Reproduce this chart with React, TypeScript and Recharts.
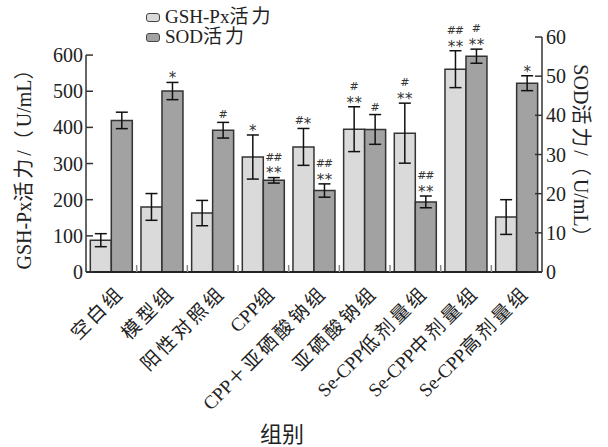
import React from "react";
import {
  BarChart,
  Bar,
  XAxis,
  YAxis,
  ErrorBar,
  LabelList,
  Legend,
  Label,
} from "recharts";

const groups = [
  "空白组",
  "模型组",
  "阳性对照组",
  "CPP组",
  "CPP＋亚硒酸钠组",
  "亚硒酸钠组",
  "Se-CPP低剂量组",
  "Se-CPP中剂量组",
  "Se-CPP高剂量组",
];

const gshValues = [88, 180, 163, 318, 346, 395, 384, 561, 152];
const gshErrors = [18, 37, 35, 61, 51, 62, 83, 51, 48];
const sodValues = [38.7, 46.2, 36.2, 23.4, 20.8, 36.4, 17.9, 55.1, 48.2];
const sodErrors = [2.1, 2.2, 2.0, 0.7, 1.7, 3.8, 1.5, 1.8, 1.9];

// significance marks, top line first
const gshMarks = [[], [], [], ["*"], ["#*"], ["#", "**"], ["#", "**"], ["##", "**"], []];
const sodMarks = [[], ["*"], ["#"], ["##", "**"], ["##", "**"], ["#"], ["##", "**"], ["#", "**"], ["*"]];

const leftTicks = [0, 100, 200, 300, 400, 500, 600];
const rightTicks = [0, 10, 20, 30, 40, 50, 60];
const LEFT_MAX = 650;

const W = 608;
const H = 447;
const PLOT_LEFT = 86;
const PLOT_RIGHT = 542;
const PLOT_TOP = 37;
const PLOT_BOTTOM = 272;
const BAND = (PLOT_RIGHT - PLOT_LEFT) / groups.length;

const FONT = '"Liberation Serif", "Noto Sans CJK SC", serif';
const INK = "#222";
const AXIS = "#333";
const GSH_FILL = "#dadada";
const SOD_FILL = "#a2a2a2";

const data = groups.map((g, i) => ({
  group: g,
  gsh: gshValues[i],
  gshErr: gshErrors[i],
  sod: sodValues[i],
  sodErr: sodErrors[i],
}));

const CJK = /([\u3000-\u9fff\uff00-\uffef]+)/;
const runs = (s: string) =>
  s
    .split(CJK)
    .filter(Boolean)
    .map((part, i) =>
      CJK.test(part) ? (
        <tspan key={i} letterSpacing={3}>
          {part}
        </tspan>
      ) : (
        <tspan key={i}>{part}</tspan>
      )
    );

const LeftTick = (props: any) => {
  const { x, y, payload } = props;
  const step = ((PLOT_BOTTOM - PLOT_TOP) * 100) / LEFT_MAX;
  return (
    <g>
      <line x1={x} x2={x + 7} y1={y} y2={y} stroke={AXIS} strokeWidth={1.5} />
      {payload.value > 0 && (
        <line x1={x} x2={x} y1={y} y2={y + step} stroke={AXIS} strokeWidth={1.5} />
      )}
      <text x={x - 3} y={y} dy="0.35em" textAnchor="end" fontFamily={FONT} fontSize={20} fill={INK}>
        {payload.value}
      </text>
    </g>
  );
};

const RightTick = (props: any) => {
  const { x, y, payload } = props;
  return (
    <g>
      <line x1={x - 7} x2={x} y1={y} y2={y} stroke={AXIS} strokeWidth={1.5} />
      <text x={x + 4} y={y} dy="0.35em" textAnchor="start" fontFamily={FONT} fontSize={20} fill={INK}>
        {payload.value}
      </text>
    </g>
  );
};

const XTick = (props: any) => {
  const { x, payload, index } = props;
  return (
    <g>
      {index < groups.length - 1 && (
        <line
          x1={x + BAND / 2}
          x2={x + BAND / 2}
          y1={PLOT_BOTTOM}
          y2={PLOT_BOTTOM - 7}
          stroke="#888"
          strokeWidth={1.5}
        />
      )}
      <text
        transform={`translate(${x + 14},${PLOT_BOTTOM + 22}) rotate(-45)`}
        textAnchor="end"
        fontFamily={FONT}
        fontSize={19}
        fill={INK}
      >
        {runs(payload.value)}
      </text>
    </g>
  );
};

const markChar = (c: string, cx: number, cy: number, key: string) =>
  c === "*" ? (
    <text key={key} x={cx} y={cy + 8.8} textAnchor="middle" fontFamily="DejaVu Sans" fontSize={15} fill="#333">
      *
    </text>
  ) : (
    <text key={key} x={cx} y={cy + 4} textAnchor="middle" fontFamily="DejaVu Sans" fontSize={11} fill="#333">
      {c}
    </text>
  );

const makeMarks = (marks: string[][], errors: number[]) => (props: any) => {
  const { x, y, width, height, value, index } = props;
  const lines = marks[index];
  if (!lines || !lines.length || !value) return null;
  const errPx = (Math.abs(height) / value) * errors[index];
  const top = y - errPx;
  const cx = x + width / 2;
  const out: React.ReactNode[] = [];
  lines.forEach((line, li) => {
    const cy = top - 8 - (lines.length - 1 - li) * 13;
    const chars = line.split("");
    chars.forEach((c, ci) => {
      const px = cx + (ci - (chars.length - 1) / 2) * 8;
      out.push(markChar(c, px, cy, `${li}-${ci}`));
    });
  });
  return <g>{out}</g>;
};

const LegendContent = (props: any) => {
  const { payload } = props;
  return (
    <div style={{ fontFamily: FONT, fontSize: 19, color: INK, lineHeight: "20px" }}>
      {(payload || []).map((p: any) => (
        <div key={p.value} style={{ display: "flex", alignItems: "center", height: 20 }}>
          <span
            style={{
              display: "inline-block",
              width: 12,
              height: 7,
              border: "1.5px solid #444",
              borderRadius: 3,
              background: p.color,
              marginRight: 5,
            }}
          />
          <span>
            {p.value.split(CJK).filter(Boolean).map((part: string, i: number) =>
              CJK.test(part) ? (
                <span key={i} style={{ letterSpacing: 3 }}>
                  {part}
                </span>
              ) : (
                <span key={i}>{part}</span>
              )
            )}
          </span>
        </div>
      ))}
    </div>
  );
};

export default function App() {
  return (
    <div style={{ position: "absolute", left: 0, top: 0, width: W, height: H, background: "#fff" }}>
      <BarChart
        width={W}
        height={H}
        data={data}
        margin={{ top: PLOT_TOP, right: 0, bottom: 0, left: 0 }}
        barCategoryGap="8.5%"
        barGap={0}
      >
        <XAxis
          dataKey="group"
          height={H - PLOT_BOTTOM}
          interval={0}
          tickLine={false}
          axisLine={{ stroke: "#222", strokeWidth: 2 }}
          tick={<XTick />}
        >
          <Label
            content={() => (
              <text x={282} y={442} textAnchor="middle" fontFamily={FONT} fontSize={22} fill={INK}>
                组别
              </text>
            )}
          />
        </XAxis>
        <YAxis
          yAxisId="left"
          orientation="left"
          width={PLOT_LEFT}
          domain={[0, LEFT_MAX]}
          ticks={leftTicks}
          interval={0}
          allowDataOverflow
          axisLine={false}
          tickLine={false}
          tickSize={0}
          tickMargin={0}
          tick={<LeftTick />}
        >
          <Label
            content={() => (
              <text
                transform="translate(31,163) rotate(-90)"
                textAnchor="middle"
                fontFamily={FONT}
                fontSize={20}
                fill={INK}
              >
                {runs("GSH-Px活力/（U/mL）")}
              </text>
            )}
          />
        </YAxis>
        <YAxis
          yAxisId="right"
          orientation="right"
          width={W - PLOT_RIGHT}
          domain={[0, 60]}
          ticks={rightTicks}
          interval={0}
          allowDataOverflow
          axisLine={{ stroke: AXIS, strokeWidth: 1.5 }}
          tickLine={false}
          tickSize={0}
          tickMargin={0}
          tick={<RightTick />}
        >
          <Label
            content={() => (
              <text
                transform="translate(574,157) rotate(90)"
                textAnchor="middle"
                fontFamily={FONT}
                fontSize={20}
                fill={INK}
              >
                {runs("SOD活力/（U/mL）")}
              </text>
            )}
          />
        </YAxis>
        <Legend
          layout="horizontal"
          verticalAlign="middle"
          align="center"
          wrapperStyle={{ top: 7, left: 146, width: 200 }}
          content={<LegendContent />}
        />
        <Bar
          yAxisId="left"
          dataKey="gsh"
          name="GSH-Px活力"
          fill={GSH_FILL}
          stroke="#333"
          strokeWidth={1.5}
          isAnimationActive={false}
        >
          <ErrorBar dataKey="gshErr" width={6} stroke="#111" strokeWidth={1.5} />
          <LabelList dataKey="gsh" content={makeMarks(gshMarks, gshErrors)} />
        </Bar>
        <Bar
          yAxisId="right"
          dataKey="sod"
          name="SOD活力"
          fill={SOD_FILL}
          stroke="#333"
          strokeWidth={1.5}
          isAnimationActive={false}
        >
          <ErrorBar dataKey="sodErr" width={6} stroke="#111" strokeWidth={1.5} />
          <LabelList dataKey="sod" content={makeMarks(sodMarks, sodErrors)} />
        </Bar>
      </BarChart>
    </div>
  );
}
